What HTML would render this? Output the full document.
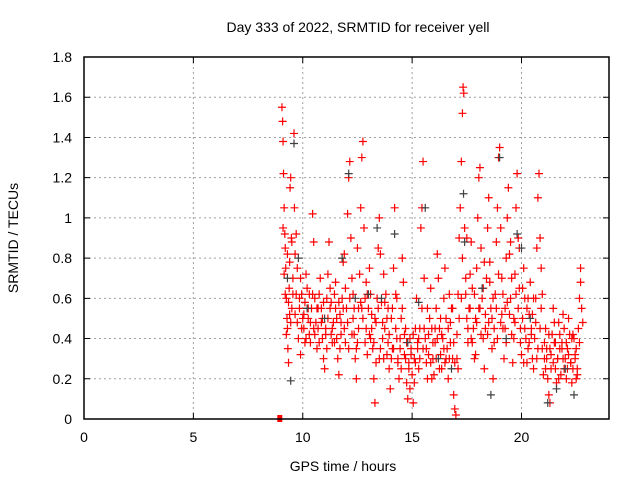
<!DOCTYPE html>
<html><head><meta charset="utf-8"><style>
body{margin:0;background:#fff}
svg{display:block;font-family:"Liberation Sans",sans-serif}
</style></head><body>
<svg id="chart" width="640" height="480" viewBox="0 0 640 480">
<text x="358" y="32" font-size="14" text-anchor="middle">Day 333 of 2022, SRMTID for receiver yell</text>
<text x="343" y="471" font-size="14" text-anchor="middle">GPS time / hours</text>
<text transform="translate(18,238) rotate(-90)" font-size="14" text-anchor="middle">SRMTID / TECUs</text>
<g id="grid"></g><g id="ticks"></g><g id="marks"></g>
<rect x="84" y="57" width="525" height="362" fill="none" stroke="#000" stroke-width="1.5"/>
</svg>
<script>
const xTicks=[0,5,10,15,20];
const yTicks=[0,0.2,0.4,0.6,0.8,1,1.2,1.4,1.6,1.8];
const yTickLabels=["0","0.2","0.4","0.6","0.8","1","1.2","1.4","1.6","1.8"];
const redT=[9.05,9.08,9.1,9.12,9.15,9.18,9.2,9.22,9.25,9.28,9.3,9.32,9.35,9.38,9.4,9.42,9.45,9.48,9.5,9.55,9.6,9.62,9.65,9.7,9.75,9.8,9.85,9.9,9.95,10.0,10.05,10.1,10.15,10.2,10.25,10.3,10.35,10.4,10.45,10.5,10.55,10.6,10.65,10.7,10.75,10.8,10.85,10.9,10.95,11.0,11.05,11.1,11.15,11.2,11.25,11.3,11.35,11.4,11.45,11.5,11.55,11.6,11.65,11.7,11.75,11.8,11.85,11.9,11.95,12.0,12.05,12.1,12.15,12.2,12.25,12.3,12.35,12.4,12.45,12.5,12.55,12.6,12.65,12.7,12.75,12.8,12.85,12.9,12.95,13.0,13.05,13.1,13.15,13.2,13.25,13.3,13.35,13.4,13.45,13.5,13.55,13.6,13.65,13.7,13.75,13.8,13.85,13.9,13.95,14.0,14.05,14.1,14.15,14.2,14.25,14.3,14.35,14.4,14.45,14.5,14.55,14.6,14.65,14.7,14.75,14.8,14.85,14.9,14.95,15.0,15.05,15.1,15.15,15.2,15.25,15.3,15.35,15.4,15.45,15.5,15.55,15.6,15.65,15.7,15.75,15.8,15.85,15.9,15.95,16.0,16.05,16.1,16.15,16.2,16.25,16.3,16.35,16.4,16.45,16.5,16.55,16.6,16.65,16.7,16.75,16.8,16.85,16.9,16.95,17.0,17.05,17.1,17.15,17.2,17.25,17.3,17.33,17.36,17.4,17.45,17.5,17.55,17.6,17.65,17.7,17.75,17.8,17.85,17.9,17.95,18.0,18.05,18.1,18.15,18.2,18.25,18.3,18.35,18.4,18.45,18.5,18.55,18.6,18.65,18.7,18.75,18.8,18.85,18.9,18.95,19.0,19.05,19.1,19.15,19.2,19.25,19.3,19.35,19.4,19.45,19.5,19.55,19.6,19.65,19.7,19.75,19.8,19.85,19.9,19.95,20.0,20.05,20.1,20.15,20.2,20.25,20.3,20.35,20.4,20.45,20.5,20.55,20.6,20.65,20.7,20.75,20.8,20.85,20.9,20.95,21.0,21.05,21.1,21.15,21.2,21.25,21.3,21.35,21.4,21.45,21.5,21.55,21.6,21.65,21.7,21.75,21.8,21.85,21.9,21.95,22.0,22.05,22.1,22.15,22.2,22.25,22.3,22.35,22.4,22.45,22.5,22.55,22.6,22.65,22.7,22.75,22.8];
const redV=[1.55,1.48,1.38,1.22,1.05,0.92,0.85,0.75,0.6,0.5,0.45,0.35,0.28,0.65,0.78,1.15,1.2,0.9,0.55,0.7,1.42,1.05,0.82,0.62,0.48,0.4,0.55,0.7,0.62,0.5,0.45,0.58,0.72,0.65,0.5,0.42,0.38,0.55,1.02,0.88,0.6,0.48,0.35,0.45,0.62,0.7,0.55,0.4,0.3,0.25,0.45,0.6,0.72,0.88,0.55,0.42,0.38,0.48,0.62,0.55,0.4,0.3,0.22,0.35,0.48,0.6,0.78,0.82,0.65,0.55,1.02,1.2,1.28,0.9,0.7,0.5,0.42,0.3,0.2,0.38,0.55,0.72,1.05,1.3,1.38,0.95,0.6,0.45,0.32,0.55,0.75,0.62,0.45,0.35,0.2,0.08,0.28,0.6,0.85,1.0,0.82,0.58,0.4,0.3,0.45,0.62,0.5,0.38,0.25,0.15,0.3,0.55,0.75,1.05,0.62,0.4,0.28,0.2,0.35,0.5,0.8,0.68,0.42,0.3,0.18,0.1,0.25,0.4,0.32,0.22,0.08,0.3,0.45,0.6,0.35,0.25,0.45,0.95,1.05,1.28,0.7,0.4,0.28,0.2,0.32,0.5,0.65,0.45,0.3,0.22,0.38,0.55,0.82,0.7,0.45,0.32,0.25,0.4,0.6,0.75,0.5,0.35,0.2,0.3,0.48,0.55,0.3,0.12,0.05,0.02,0.3,0.62,0.9,1.05,1.28,1.52,1.65,1.62,0.95,0.7,0.5,0.38,0.55,0.72,0.88,0.65,0.45,0.3,0.5,0.75,1.0,1.2,1.25,0.85,0.6,0.4,0.25,0.45,0.7,0.95,1.1,0.78,0.55,0.35,0.2,0.38,0.62,0.88,1.05,1.3,1.35,0.95,0.7,0.45,0.3,0.55,0.8,1.0,1.15,0.82,0.6,0.42,0.28,0.5,0.72,1.05,1.22,0.9,0.65,0.45,0.32,0.5,0.75,0.6,0.4,0.28,0.35,0.52,0.68,0.45,0.3,0.25,0.4,0.6,0.85,1.1,1.22,0.9,0.55,0.35,0.22,0.3,0.45,0.35,0.2,0.12,0.08,0.25,0.42,0.55,0.38,0.25,0.18,0.3,0.48,0.35,0.22,0.38,0.52,0.45,0.3,0.2,0.35,0.5,0.42,0.28,0.18,0.25,0.4,0.32,0.2,0.25,0.45,0.6,0.75,0.55,0.48];
const red2T=[9.1,9.2,9.3,9.4,9.5,9.7,9.9,10.1,10.3,10.5,10.7,10.9,11.1,11.3,11.5,11.7,11.9,12.1,12.3,12.5,12.7,12.9,13.1,13.3,13.5,13.7,13.9,14.1,14.3,14.5,14.7,14.9,15.1,15.3,15.5,15.7,15.9,16.1,16.3,16.5,16.7,16.9,17.1,17.3,17.5,17.7,17.9,18.1,18.3,18.5,18.7,18.9,19.1,19.3,19.5,19.7,19.9,20.1,20.3,20.5,20.7,20.9,21.1,21.3,21.5,21.7,21.9,22.1,22.3,22.5,22.7];
const red2V=[0.95,0.62,0.82,0.52,0.88,0.92,0.32,0.38,0.62,0.45,0.55,0.5,0.35,0.58,0.68,0.52,0.45,0.35,0.62,0.85,0.55,0.68,0.4,0.5,0.3,0.72,0.55,0.35,0.6,0.25,0.45,0.15,0.18,0.4,0.35,0.55,0.2,0.3,0.5,0.28,0.62,0.38,0.25,0.8,0.9,0.4,0.32,0.55,0.78,0.48,0.6,0.4,0.52,0.38,0.88,0.48,0.85,0.28,0.6,0.52,0.3,0.75,0.25,0.35,0.48,0.2,0.3,0.25,0.4,0.35,0.68];
const red3T=[9.15,9.25,9.35,9.45,9.55,9.65,9.75,9.85,9.95,10.05,10.15,10.25,10.35,10.45,10.55,10.65,10.75,10.85,10.95,11.05,11.15,11.25,11.35,11.45,11.55,11.65,11.75,11.85,11.95,12.05,12.15,12.25,12.35,12.45,12.55,12.65,12.75,12.85,12.95,13.05,13.15,13.25,13.35,13.45,13.55,13.65,13.75,13.85,13.95,14.05,14.15,14.25,14.35,14.45,14.55,14.65,14.75,14.85,14.95,15.05,15.15,15.25,15.35,15.45,15.55,15.65,15.75,15.85,15.95,16.05,16.15,16.25,16.35,16.45,16.55,16.65,16.75,16.85,16.95,17.05,17.15,17.25,17.45,17.55,17.65,17.75,17.85,17.95,18.05,18.15,18.25,18.35,18.45,18.55,18.65,18.75,18.85,18.95,19.05,19.15,19.25,19.35,19.45,19.55,19.65,19.75,19.85,19.95,20.05,20.15,20.25,20.35,20.45,20.55,20.65,20.75,20.85,20.95,21.05,21.15,21.25,21.35,21.45,21.55,21.65,21.75,21.85,21.95,22.05,22.15,22.25,22.35,22.45,22.55,22.65];
const red3V=[0.72,0.42,0.58,0.48,0.62,0.52,0.75,0.6,0.45,0.52,0.4,0.55,0.48,0.62,0.42,0.55,0.38,0.48,0.58,0.42,0.5,0.65,0.45,0.38,0.5,0.58,0.42,0.55,0.38,0.48,0.6,0.42,0.55,0.35,0.45,0.58,0.5,0.38,0.62,0.42,0.52,0.38,0.48,0.55,0.35,0.48,0.58,0.32,0.42,0.5,0.35,0.45,0.3,0.4,0.55,0.32,0.38,0.28,0.35,0.42,0.28,0.38,0.3,0.55,0.45,0.35,0.42,0.28,0.38,0.45,0.4,0.25,0.42,0.35,0.3,0.45,0.38,0.55,0.28,0.42,0.5,0.6,0.62,0.45,0.55,0.38,0.62,0.48,0.55,0.42,0.65,0.52,0.42,0.68,0.5,0.45,0.55,0.72,0.48,0.62,0.45,0.58,0.52,0.7,0.4,0.62,0.55,0.38,0.65,0.45,0.55,0.38,0.42,0.6,0.48,0.35,0.45,0.62,0.38,0.3,0.42,0.32,0.28,0.38,0.3,0.42,0.35,0.25,0.38,0.32,0.28,0.42,0.3,0.22,0.38];
const grayT=[9.3,9.45,9.6,9.8,10.2,11.0,11.8,12.1,12.4,13.0,13.4,13.6,14.2,14.8,15.3,15.6,16.2,16.8,17.35,17.4,18.2,18.6,19.0,19.3,19.8,20.0,20.4,21.2,21.6,22.0,22.4];
const grayV=[0.7,0.19,1.37,0.8,0.55,0.5,0.8,1.22,0.6,0.62,0.95,0.6,0.92,0.38,0.58,1.05,0.3,0.25,1.12,0.88,0.65,0.12,1.3,0.4,0.92,0.85,0.5,0.08,0.15,0.25,0.12];
const zeroT=[8.95];
const zeroV=[0.0];

const X=t=>84+t*(525/24);
const Y=v=>419-v*(362/1.8);
const NS='http://www.w3.org/2000/svg';
function mk(tag,attrs,parent){const e=document.createElementNS(NS,tag);for(const k in attrs)e.setAttribute(k,attrs[k]);parent.appendChild(e);return e;}
const grid=document.getElementById('grid'),ticks=document.getElementById('ticks'),marks=document.getElementById('marks');
xTicks.forEach(t=>{
  if(t>0){const g=mk('line',{x1:X(t),x2:X(t),y1:57,y2:419,stroke:'#a0a0a0','stroke-dasharray':'2,3'},grid);
  
  }
  const tk=mk('path',{d:`M${X(t)} 419v-6M${X(t)} 57v6`,stroke:'#000'},ticks);
  
  
  const l=mk('text',{x:X(t),y:442,'font-size':14,'text-anchor':'middle'},ticks);l.textContent=t;
  
  
});
yTicks.forEach((v,i)=>{
  if(v>0&&v<1.8){const g=mk('line',{x1:84,x2:609,y1:Y(v),y2:Y(v),stroke:'#a0a0a0','stroke-dasharray':'2,3'},grid);
  
  }
  const tk=mk('path',{d:`M84 ${Y(v)}h6M609 ${Y(v)}h-6`,stroke:'#000'},ticks);
  
  
  const l=mk('text',{x:72,y:Y(v)+5,'font-size':14,'text-anchor':'end'},ticks);l.textContent=yTickLabels[i];
  
  
});
function plus(T,V,color,name){
  let d='';
  T.forEach((t,i)=>{const x=X(t),y=Y(V[i]);d+=`M${x-4} ${y}h8M${x} ${y-4}v8`;});
  const p=mk('path',{d:d,stroke:color,'stroke-width':1.2,fill:'none'},marks);
  
  
}
plus(redT,redV,'#ff0000','srmtid-points-red');
plus(red2T,red2V,'#ff0000','srmtid-points-red-2');
plus(red3T,red3V,'#ff0000','srmtid-points-red-3');
plus(grayT,grayV,'#404040','srmtid-points-gray');
zeroT.forEach((t,i)=>{
  const r=mk('rect',{x:X(t)-2.5,y:Y(zeroV[i])-4,width:5,height:7,fill:'#ff0000'},marks);
  
  
});
</script>
</body></html>
